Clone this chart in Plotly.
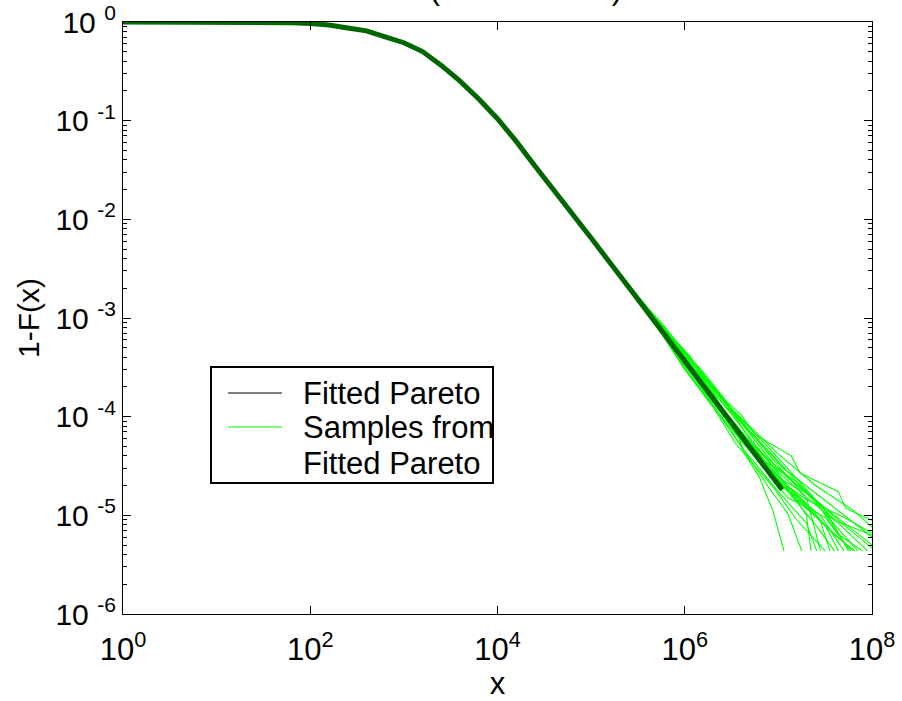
import numpy as np
import plotly.graph_objects as go

# ---- data (log10 values) ----
FIT_LOG_X = [0.0, 1.0, 1.5, 1.8, 2.0, 2.2, 2.4, 2.6, 2.8, 3.0, 3.2, 3.4, 3.6, 3.8,
             4.0, 4.2, 4.4, 4.6, 4.8, 5.0, 5.5, 6.0, 6.5, 7.04]
FIT_LOG_Y = [0.0, 0.0, -0.003, -0.008, -0.015, -0.03, -0.06, -0.09, -0.15, -0.21, -0.30,
             -0.44, -0.60, -0.78, -0.98, -1.21, -1.46, -1.70, -1.95, -2.19, -2.81, -3.44,
             -4.07, -4.74]

# sample curves follow the fitted curve up to x = 10^5, then have their own tails
SAMPLE_SHARED_N = 20
SAMPLE_TAIL_LOG_X = [
    [5.5, 5.75, 6.0, 6.3, 6.55, 6.62, 6.8, 6.94, 7.06],
    [5.5, 5.8, 6.0, 6.25, 6.5, 6.9, 7.1, 7.25],
    [5.5, 5.75, 6.05, 6.3, 6.6, 7.0, 7.3, 7.35],
    [5.5, 5.8, 6.0, 6.3, 6.6, 7.0, 7.3, 7.41],
    [5.5, 5.75, 6.05, 6.25, 6.55, 7.0, 7.3, 7.45],
    [5.5, 5.7, 6.0, 6.3, 6.5, 6.9, 7.3, 7.5, 7.64],
    [5.5, 5.8, 6.1, 6.35, 6.6, 7.1, 7.5, 7.77],
    [5.5, 5.75, 6.0, 6.3, 6.6, 7.0, 7.4, 7.85],
    [5.5, 5.8, 6.05, 6.3, 6.5, 7.0, 7.5, 7.95],
    [5.5, 5.75, 6.0, 6.2, 6.45, 6.6, 6.75, 7.14, 7.23, 7.64, 7.72, 8.0, 8.3],
    [5.5, 5.75, 6.0, 6.25, 6.5, 7.0, 7.4, 7.8, 8.0, 8.2],
    [5.5, 5.8, 6.05, 6.3, 6.6, 7.05, 7.5, 8.0, 8.1],
    [5.5, 5.75, 6.0, 6.3, 6.6, 7.1, 7.6, 8.0, 8.05],
    [5.5, 5.8, 6.1, 6.35, 6.6, 7.0, 7.35, 7.7, 8.0, 8.04],
    [5.5, 5.75, 6.0, 6.3, 6.55, 6.95, 7.2, 7.5],
    [5.5, 5.8, 6.05, 6.3, 6.6, 7.05, 7.4, 7.6],
    [5.5, 5.75, 6.0, 6.25, 6.5, 7.0, 7.45, 7.7],
    [5.5, 5.8, 6.05, 6.35, 6.6, 7.1, 7.55, 7.8],
    [5.5, 5.75, 6.0, 6.3, 6.55, 6.95, 7.4, 7.65, 7.9],
    [5.5, 5.8, 6.0, 6.25, 6.5, 7.0, 7.45, 7.55],
    [5.5, 5.75, 6.05, 6.3, 6.6, 7.0, 7.25, 7.6, 8.0, 8.2],
    [5.5, 5.8, 6.0, 6.3, 6.55, 6.85, 7.2, 7.5, 7.75],
    [5.5, 5.75, 6.05, 6.3, 6.6, 7.0, 7.3, 7.7, 8.0, 8.3],
    [5.5, 5.8, 6.0, 6.35, 6.6, 6.95, 7.3, 7.6, 7.82],
]
SAMPLE_TAIL_LOG_Y = [
    [-2.80, -3.10, -3.40, -3.80, -4.12, -4.34, -4.62, -4.95, -5.36],
    [-2.83, -3.20, -3.50, -3.82, -4.15, -4.72, -4.98, -5.36],
    [-2.78, -3.06, -3.45, -3.74, -4.10, -4.58, -5.00, -5.36],
    [-2.84, -3.22, -3.52, -3.88, -4.30, -4.76, -5.08, -5.36],
    [-2.79, -3.08, -3.38, -3.65, -3.98, -4.50, -4.82, -5.36],
    [-2.81, -3.02, -3.36, -3.72, -3.95, -4.52, -4.88, -5.10, -5.36],
    [-2.82, -3.20, -3.60, -3.95, -4.24, -4.82, -5.02, -5.36],
    [-2.80, -3.10, -3.36, -3.72, -4.05, -4.45, -4.88, -5.36],
    [-2.78, -3.12, -3.42, -3.70, -3.92, -4.42, -4.95, -5.36],
    [-2.79, -3.05, -3.34, -3.55, -3.85, -3.98, -4.18, -4.40, -4.57, -4.76, -4.93, -5.05, -5.30],
    [-2.80, -3.08, -3.33, -3.62, -3.92, -4.38, -4.70, -4.95, -5.12, -5.36],
    [-2.82, -3.18, -3.45, -3.76, -4.06, -4.52, -4.85, -5.22, -5.36],
    [-2.84, -3.14, -3.47, -3.80, -4.16, -4.62, -5.00, -5.30, -5.36],
    [-2.79, -3.16, -3.55, -3.86, -4.14, -4.62, -4.80, -5.10, -5.33, -5.36],
    [-2.83, -3.16, -3.52, -3.90, -4.28, -4.72, -5.05, -5.36],
    [-2.80, -3.14, -3.40, -3.76, -4.20, -4.70, -5.10, -5.36],
    [-2.81, -3.12, -3.48, -3.78, -4.04, -4.66, -5.00, -5.36],
    [-2.81, -3.22, -3.50, -3.90, -4.24, -4.76, -5.15, -5.36],
    [-2.84, -3.15, -3.42, -3.70, -4.00, -4.48, -4.86, -5.20, -5.36],
    [-2.78, -3.13, -3.46, -3.74, -4.08, -4.60, -5.06, -5.36],
    [-2.82, -3.10, -3.44, -3.80, -4.15, -4.56, -4.78, -5.05, -5.20, -5.36],
    [-2.80, -3.16, -3.42, -3.78, -4.12, -4.45, -4.66, -4.95, -5.36],
    [-2.81, -3.12, -3.50, -3.82, -4.18, -4.64, -4.84, -5.02, -5.18, -5.36],
    [-2.83, -3.18, -3.46, -3.92, -4.22, -4.60, -4.92, -5.20, -5.36],
]

X_TICK_EXP = [0, 2, 4, 6, 8]
Y_TICK_EXP = [0, -1, -2, -3, -4, -5, -6]

LEGEND_FIT = "Fitted Pareto"
LEGEND_SAMPLES_1 = "Samples from"
LEGEND_SAMPLES_2 = "Fitted Pareto"
X_TITLE = "x"
Y_TITLE = "1-F(x)"
TITLE_TEXT = "(Fitted Pareto)"

# ---- figure ----
FONT = "Liberation Sans, Arial, sans-serif"
NARROW = "Liberation Sans Narrow, Arial Narrow, Liberation Sans, sans-serif"
GREEN = "rgb(0,255,0)"
DARK = "rgb(0,102,0)"

W, H = 902, 701
ML, MR, MT, MB = 123, 30, 22, 87
PW, PH = W - ML - MR, H - MT - MB


def px(xpix):
    return (xpix - ML) / PW


def py(ypix):
    return (H - MB - ypix) / PH


fig = go.Figure()

for tx, ty in zip(SAMPLE_TAIL_LOG_X, SAMPLE_TAIL_LOG_Y):
    lx = FIT_LOG_X[:SAMPLE_SHARED_N] + tx
    ly = FIT_LOG_Y[:SAMPLE_SHARED_N] + ty
    fig.add_trace(go.Scatter(x=np.power(10.0, lx), y=np.power(10.0, ly), mode="lines",
                             line=dict(color=GREEN, width=1.1), showlegend=False,
                             hoverinfo="skip"))

fig.add_trace(go.Scatter(x=np.power(10.0, FIT_LOG_X), y=np.power(10.0, FIT_LOG_Y),
                         mode="lines", line=dict(color=DARK, width=5),
                         showlegend=False))

minor_y = [m * 10.0 ** e for e in range(-6, 0) for m in range(2, 10)]

# legend box drawn in paper coordinates
shapes = [
    dict(type="rect", xref="paper", yref="paper", x0=px(211), x1=px(493), y0=py(483), y1=py(367),
         line=dict(color="black", width=2), fillcolor="white", layer="above"),
    dict(type="line", xref="paper", yref="paper", x0=px(228), x1=px(282), y0=py(393), y1=py(393),
         line=dict(color="black", width=1), layer="above"),
    dict(type="line", xref="paper", yref="paper", x0=px(228), x1=px(282), y0=py(427), y1=py(427),
         line=dict(color=GREEN, width=1), layer="above"),
]
legend_texts = [(LEGEND_FIT, 393), (LEGEND_SAMPLES_1, 428), (LEGEND_SAMPLES_2, 463)]
annotations = [dict(text=t, xref="paper", yref="paper", x=px(301), y=py(yy),
                    xanchor="left", yanchor="middle", showarrow=False,
                    font=dict(family=FONT, size=31, color="black"))
               for t, yy in legend_texts]
annotations.append(dict(text=TITLE_TEXT, xref="paper", yref="paper", x=px(526), y=py(8),
                        xanchor="center", yanchor="bottom", showarrow=False,
                        font=dict(family=NARROW, size=30, color="black")))

fig.update_layout(
    width=W, height=H,
    margin=dict(l=ML, r=MR, t=MT, b=MB),
    paper_bgcolor="white", plot_bgcolor="white",
    font=dict(family=FONT, size=30, color="black"),
    showlegend=False,
    xaxis=dict(type="log", range=[0, 8], automargin=False,
               tickvals=[10.0 ** e for e in X_TICK_EXP],
               ticktext=["10<sup>%d</sup>" % e for e in X_TICK_EXP],
               tickfont=dict(family=NARROW, size=31),
               ticks="inside", ticklen=8, tickcolor="black", ticklabelstandoff=8,
               showline=True, linecolor="black", linewidth=1.3, mirror="ticks",
               showgrid=False, zeroline=False,
               title=dict(text=X_TITLE, font=dict(family=NARROW, size=31), standoff=10)),
    yaxis=dict(type="log", range=[-6, 0], automargin=False,
               tickvals=[10.0 ** e for e in Y_TICK_EXP],
               ticktext=["10 <sup>%d</sup>" % e for e in Y_TICK_EXP],
               tickfont=dict(family=FONT, size=30),
               ticks="inside", ticklen=8, tickcolor="black",
               minor=dict(tickvals=minor_y, ticks="inside", ticklen=4, tickcolor="black",
                          showgrid=False),
               showline=True, linecolor="black", linewidth=1.3, mirror="ticks",
               showgrid=False, zeroline=False,
               title=dict(text=Y_TITLE, font=dict(family=FONT, size=30), standoff=6)),
    shapes=shapes,
    annotations=annotations,
)

fig.write_html("out.html")
